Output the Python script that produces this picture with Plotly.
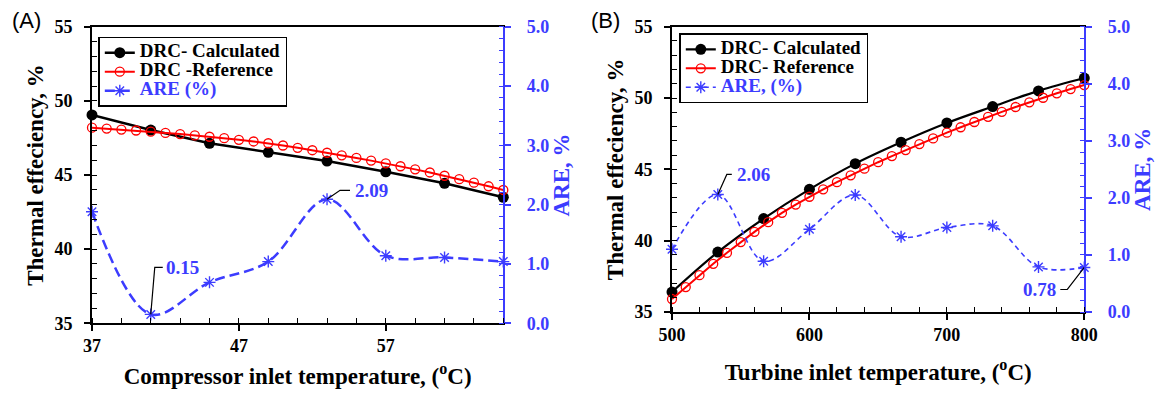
import plotly.graph_objects as go

# ---------------- data ----------------
# Panel (A): compressor inlet temperature
comp_x_calc = [37, 41, 45, 49, 53, 57, 61, 65]
comp_eff_calc = [49.05, 48.03, 47.14, 46.53, 45.94, 45.22, 44.44, 43.5]
comp_are = [1.88, 0.15, 0.69, 1.04, 2.09, 1.14, 1.11, 1.04]
comp_x_ref = [37, 38, 39, 40, 41, 42, 43, 44, 45, 46, 47, 48, 49, 50, 51, 52,
              53, 54, 55, 56, 57, 58, 59, 60, 61, 62, 63, 64, 65]
comp_eff_ref = [48.19, 48.13, 48.06, 48.0, 47.92, 47.84, 47.76, 47.67, 47.58,
                47.48, 47.37, 47.26, 47.14, 46.99, 46.83, 46.67, 46.5, 46.33,
                46.15, 45.97, 45.79, 45.59, 45.38, 45.17, 44.95, 44.72, 44.48,
                44.24, 43.99]

# Panel (B): turbine inlet temperature
turb_x_calc = [500, 533.33, 566.67, 600, 633.33, 666.67, 700, 733.33, 766.67, 800]
turb_eff_calc = [36.4, 39.2, 41.55, 43.6, 45.4, 46.9, 48.25, 49.4, 50.5, 51.4]
turb_are = [1.10, 2.06, 0.89, 1.45, 2.05, 1.32, 1.48, 1.51, 0.79, 0.78]
turb_x_ref = [500, 510, 520, 530, 540, 550, 560, 570, 580, 590, 600, 610, 620,
              630, 640, 650, 660, 670, 680, 690, 700, 710, 720, 730, 740, 750,
              760, 770, 780, 790, 800]
turb_eff_ref = [35.91, 36.75, 37.58, 38.38, 39.15, 39.9, 40.62, 41.3, 41.95,
                42.53, 43.08, 43.6, 44.1, 44.58, 45.05, 45.5, 45.93, 46.35,
                46.77, 47.17, 47.57, 47.95, 48.32, 48.68, 49.03, 49.37, 49.7,
                50.02, 50.33, 50.63, 50.91]

# labelled ARE points (indices into the ARE lists)
labels_a = [1, 4]
labels_b = [1, 9]

# ---------------- style ----------------
W, H = 1161, 393
SERIF = "Liberation Serif, Times New Roman, Times, serif"
BLUE = "#3C3CFF"
RED = "#FF0000"

fig = go.Figure()

def legend_name(txt, color="black"):
    return "<span style='font-size:19px;color:%s'>%s</span>" % (color, txt)

def add_panel(xc, yc, xr, yr, are, xa, ya, ya2, leg, names, are_dash, are_w, calc_shape, calc_w):
    fig.add_trace(go.Scatter(
        x=xc, y=yc, xaxis=xa, yaxis=ya, name=legend_name(names[0]), legend=leg,
        mode="lines+markers", cliponaxis=False,
        line=dict(color="black", width=calc_w, shape=calc_shape),
        marker=dict(symbol="circle", size=11, color="black")))
    fig.add_trace(go.Scatter(
        x=xr, y=yr, xaxis=xa, yaxis=ya, name=legend_name(names[1]), legend=leg,
        mode="lines+markers", cliponaxis=False,
        line=dict(color=RED, width=2),
        marker=dict(symbol="circle-open", size=9, color=RED, line=dict(width=1.3, color=RED))))
    fig.add_trace(go.Scatter(
        x=xc, y=are, xaxis=xa, yaxis=ya2, legend=leg,
        name=legend_name(names[2], BLUE),
        mode="lines+markers", cliponaxis=False,
        line=dict(color=BLUE, width=are_w, dash=are_dash, shape="spline", smoothing=1.0),
        marker=dict(symbol="asterisk-open", size=10, color=BLUE, line=dict(width=1.4, color=BLUE))))

add_panel(comp_x_calc, comp_eff_calc, comp_x_ref, comp_eff_ref, comp_are,
          "x", "y", "y2", "legend",
          ["DRC- Calculated", "DRC -Reference", "ARE (%)"], "10px,5px", 2.5, "linear", 2.5)
add_panel(turb_x_calc, turb_eff_calc, turb_x_ref, turb_eff_ref, turb_are,
          "x2", "y3", "y4", "legend2",
          ["DRC- Calculated", "DRC- Reference", "ARE, (%)"], "5px,4px", 1.6, "spline", 2.2)

tickfont_k = dict(family=SERIF, size=18, color="black", weight="bold")
tickfont_b = dict(family=SERIF, size=18, color=BLUE, weight="bold")
titlefont_k = dict(family=SERIF, size=23, color="black", weight="bold")
titlefont_b = dict(family=SERIF, size=23, color=BLUE, weight="bold")

def xaxis_cfg(dom, rng, tick0, dtick, mdtick, anchor, title, standoff):
    return dict(domain=dom, range=rng, anchor=anchor, tick0=tick0, dtick=dtick,
                ticks="outside", ticklen=6, tickwidth=1.5, tickcolor="black",
                minor=dict(dtick=mdtick, tick0=tick0, ticks="inside", ticklen=5,
                           tickwidth=1.2, tickcolor="black"),
                showline=True, linecolor="black", linewidth=2, mirror=True,
                showgrid=False, zeroline=False, tickfont=tickfont_k,
                ticklabelstandoff=-1, automargin=False,
                title=dict(text=title, font=titlefont_k, standoff=standoff))

def yaxis_cfg(dom, anchor, title):
    return dict(domain=dom, range=[35, 55], anchor=anchor, dtick=5, tick0=35,
                ticks="outside", ticklen=6, tickwidth=1.5, tickcolor="black",
                minor=dict(dtick=1, ticks="inside", ticklen=5, tickwidth=1.2, tickcolor="black"),
                showline=True, linecolor="black", linewidth=2, mirror=False,
                showgrid=False, zeroline=False, tickfont=tickfont_k,
                ticklabelstandoff=8, automargin=False,
                title=dict(text=title, font=titlefont_k, standoff=4))

def yaxis_right_cfg(over, anchor):
    return dict(overlaying=over, anchor=anchor, side="right", range=[0, 5], dtick=1,
                tick0=0, tickformat=".1f",
                ticks="outside", ticklen=6, tickwidth=1.5, tickcolor=BLUE,
                minor=dict(dtick=0.2, ticks="inside", ticklen=5, tickwidth=1.2, tickcolor=BLUE),
                showline=True, linecolor=BLUE, linewidth=1.5,
                showgrid=False, zeroline=False, tickfont=tickfont_b,
                ticklabelstandoff=12, automargin=False,
                title=dict(text="ARE, %", font=titlefont_b, standoff=1))

dom_xa = [92 / W, 503.3 / W]
dom_xb = [672 / W, 1084.3 / W]
dom_ya = [1 - 323.3 / H, 1 - 26.7 / H]
dom_yb = [1 - 312 / H, 1 - 26.7 / H]

legend_common = dict(bgcolor="white", bordercolor="black", borderwidth=1.5,
                     font=dict(family=SERIF, size=12, color="black", weight="bold"),
                     xanchor="left", yanchor="top", tracegroupgap=0,
                     xref="paper", yref="paper")

fig.update_layout(
    width=W, height=H, margin=dict(l=0, r=0, t=0, b=0, autoexpand=False),
    paper_bgcolor="white", plot_bgcolor="white",
    showlegend=True,
    xaxis=xaxis_cfg(dom_xa, [37, 65], 37, 10, 2, "y",
                    "Compressor inlet temperature, (<sup>o</sup>C)", 13),
    yaxis=yaxis_cfg(dom_ya, "x", "Thermal effeciency, %"),
    yaxis2=yaxis_right_cfg("y", "x"),
    xaxis2=xaxis_cfg(dom_xb, [500, 800], 500, 100, 20, "y3",
                     "Turbine inlet temperature, (<sup>o</sup>C)", 20),
    yaxis3=yaxis_cfg(dom_yb, "x2", "Thermal effeciency, %"),
    yaxis4=yaxis_right_cfg("y3", "x2"),
    legend=dict(x=98.3 / W, y=1 - 36.7 / H, **legend_common),
    legend2=dict(x=679.3 / W, y=1 - 33.3 / H, **legend_common),
)

# panel letters
for txt, px in (("(A)", 26.7), ("(B)", 605)):
    fig.add_annotation(text=txt, x=px / W, y=1 - 21 / H, xref="paper", yref="paper",
                       showarrow=False, xanchor="center", yanchor="middle",
                       font=dict(family="Liberation Sans, Arial, sans-serif", size=22, color="black"))

# value labels with elbow leader lines (offsets in pixels from the data point)
def label(xref, yref, xv, yv, dx1, dy1, dx2, tx, anchor):
    fig.add_shape(type="path", xref=xref, yref=yref,
                  xsizemode="pixel", ysizemode="pixel", xanchor=xv, yanchor=yv,
                  path="M0,0 L%g,%g L%g,%g" % (dx1, dy1, dx2, dy1),
                  line=dict(color="black", width=1.2))
    fig.add_annotation(x=xv, y=yv, xref=xref, yref=yref, text="%.2f" % yv,
                       xshift=tx, yshift=dy1, showarrow=False,
                       xanchor=anchor, yanchor="middle", borderpad=0,
                       font=dict(family=SERIF, size=19, color=BLUE, weight="bold"))

label("x", "y2", comp_x_calc[labels_a[0]], comp_are[labels_a[0]], 4, 47, 12, 14, "left")
label("x", "y2", comp_x_calc[labels_a[1]], comp_are[labels_a[1]], 13, 9, 23, 27, "left")
label("x2", "y4", turb_x_calc[labels_b[0]], turb_are[labels_b[0]], 9, 20, 14, 18, "left")
label("x2", "y4", turb_x_calc[labels_b[1]], turb_are[labels_b[1]], -17, -22, -24, -27, "right")

fig.write_html("out.html")
